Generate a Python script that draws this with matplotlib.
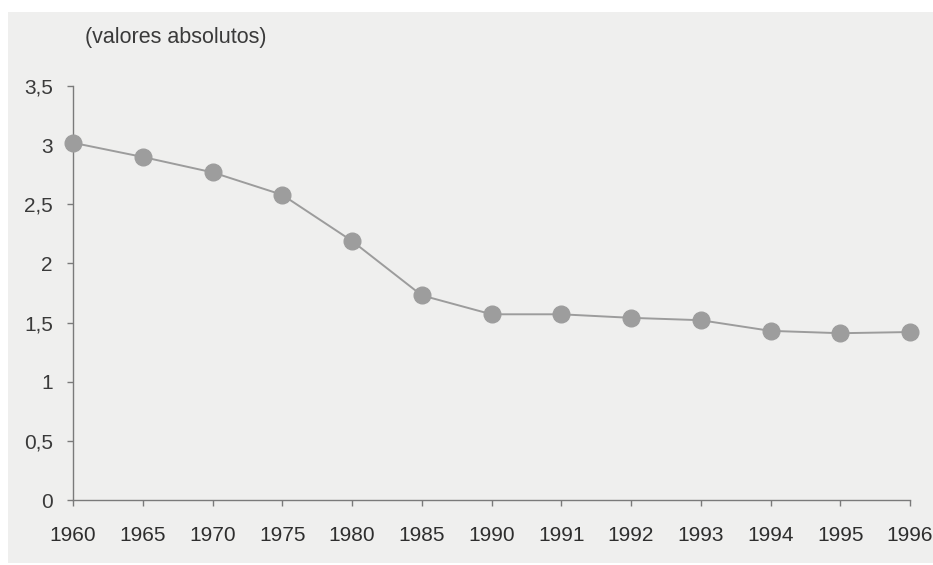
import matplotlib.pyplot as plt
from matplotlib.patches import Rectangle

years = ['1960', '1965', '1970', '1975', '1980', '1985', '1990',
         '1991', '1992', '1993', '1994', '1995', '1996']
values = [3.02, 2.90, 2.77, 2.58, 2.19, 1.73, 1.57,
          1.57, 1.54, 1.52, 1.43, 1.41, 1.42]
yticks = [0, 0.5, 1, 1.5, 2, 2.5, 3, 3.5]
ytick_labels = ['0', '0,5', '1', '1,5', '2', '2,5', '3', '3,5']

plt.rcParams['font.family'] = ['Liberation Sans', 'DejaVu Sans']

W, H = 933, 565
fig = plt.figure(figsize=(W / 100, H / 100), dpi=100, facecolor='white')
# scanned page area
fig.patches.append(Rectangle((8 / W, 2 / H), 1 - 8 / W, 1 - 14 / H,
                             transform=fig.transFigure, facecolor='#efefee',
                             edgecolor='none', zorder=-5))

ax = fig.add_axes([73 / W, 1 - 500 / H, (910 - 73) / W, (500 - 86) / H])
ax.set_facecolor('none')

x = list(range(len(years)))
ax.plot(x, values, color='#9c9c9c', lw=1.4, marker='o', ms=12,
        markerfacecolor='#9d9d9d', markeredgecolor='#9d9d9d', clip_on=False, zorder=3)

ax.set_xlim(0, len(years) - 1)
ax.set_ylim(0, 3.5)
ax.set_xticks(x)
ax.set_xticklabels(years)
ax.set_yticks(yticks)
ax.set_yticklabels(ytick_labels)

for s in ['top', 'right']:
    ax.spines[s].set_visible(False)
for s in ['left', 'bottom']:
    ax.spines[s].set_color('#7a7a7a')
    ax.spines[s].set_linewidth(1.0)

ax.tick_params(axis='y', direction='out', length=4.5, width=1.0, color='#7a7a7a',
               pad=10, labelsize=15, labelcolor='#3a3a3a')
ax.tick_params(axis='x', direction='out', length=4, width=1.0, color='#7a7a7a',
               pad=15, labelsize=15, labelcolor='#2e2e2e')

fig.text(85 / W, 1 - 37 / H, '(valores absolutos)', fontsize=15.5, color='#3a3a3a',
         ha='left', va='center')

fig.savefig('out.png', dpi=100, facecolor=fig.get_facecolor())
